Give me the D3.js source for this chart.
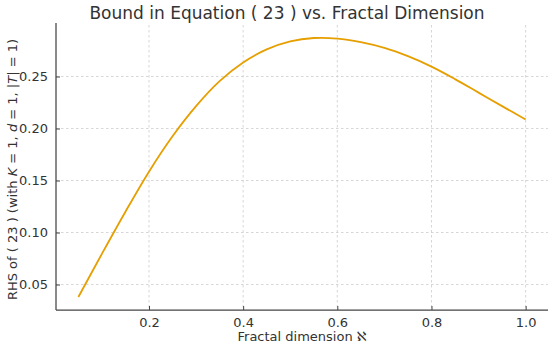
<!DOCTYPE html>
<html>
<head>
<meta charset="utf-8">
<script src="https://cdn.jsdelivr.net/npm/d3@7"></script>
<style>
  body { margin: 0; background: #fff; }
  svg { font-family: "DejaVu Sans", sans-serif; }
</style>
</head>
<body>
<svg id="chart" width="550" height="345"></svg>
<script>
(function() {
    const width = 550;
    const height = 345;

    // values
    const dims = [0.05, 0.10, 0.15, 0.20, 0.25, 0.30, 0.35, 0.40, 0.45, 0.50,
                  0.55, 0.60, 0.65, 0.70, 0.75, 0.80, 0.85, 0.90, 0.95, 1.00];
    const rhs = [0.038, 0.0795, 0.120, 0.1585, 0.1925, 0.2215, 0.2455, 0.2635, 0.2760, 0.2837,
                 0.2870, 0.2865, 0.2830, 0.2775, 0.2695, 0.2595, 0.2475, 0.2345, 0.2215, 0.2087];
    const xTicks = [0.2, 0.4, 0.6, 0.8, 1.0];
    const yTicks = [0.05, 0.10, 0.15, 0.20, 0.25];

    const margin = {top: 25, right: 2, bottom: 35, left: 56};

    const svg = d3.select("#chart");

    const x = d3.scaleLinear()
        .domain([0.0025, 1.0475])
        .range([margin.left, width - margin.right]);

    const y = d3.scaleLinear()
        .domain([0.0255, 0.2995])
        .range([height - margin.bottom, margin.top]);

    // grid
    const grid = svg.append("g");
    grid.selectAll("line.gx")
        .data(xTicks)
        .enter().append("line")
        .attr("x1", d => x(d)).attr("x2", d => x(d))
        .attr("y1", margin.top).attr("y2", height - margin.bottom)
        .attr("stroke", "#cccccc")
        .attr("stroke-width", 0.8)
        .attr("stroke-dasharray", "2.5,2.5");
    grid.selectAll("line.gy")
        .data(yTicks)
        .enter().append("line")
        .attr("x1", margin.left).attr("x2", width - margin.right)
        .attr("y1", d => y(d)).attr("y2", d => y(d))
        .attr("stroke", "#cccccc")
        .attr("stroke-width", 0.8)
        .attr("stroke-dasharray", "2.5,2.5");

    // curve
    const line = d3.line()
        .x((d, i) => x(dims[i]))
        .y(d => y(d))
        .curve(d3.curveCatmullRom.alpha(0.5));

    svg.append("path")
        .datum(rhs)
        .attr("d", line)
        .attr("fill", "none")
        .attr("stroke", "#E69F00")
        .attr("stroke-width", 1.8);

    // axes
    const xAxis = svg.append("g")
        .attr("transform", `translate(0,${height - margin.bottom})`)
        .call(d3.axisBottom(x).tickValues(xTicks).tickFormat(d3.format(".1f"))
            .tickSizeInner(-4).tickSizeOuter(0).tickPadding(8));

    const yAxis = svg.append("g")
        .attr("transform", `translate(${margin.left},0)`)
        .call(d3.axisLeft(y).tickValues(yTicks).tickFormat(d3.format(".2f"))
            .tickSizeInner(-4).tickSizeOuter(0).tickPadding(8));

    [xAxis, yAxis].forEach(ax => {
        ax.select(".domain").attr("stroke", "#444").attr("stroke-width", 1.25);
        ax.selectAll(".tick line").attr("stroke", "#444");
        ax.selectAll(".tick text")
            .attr("fill", "#333")
            .style("font-size", "13px")
            .style("font-family", "DejaVu Sans");
    });
    xAxis.select(".domain").attr("d", `M${margin.left},0H${width - margin.right}`);
    yAxis.select(".domain").attr("d", `M0,${height - margin.bottom}V${margin.top - 2}`);

    // title
    svg.append("text")
        .attr("x", 287)
        .attr("y", 19)
        .attr("text-anchor", "middle")
        .attr("fill", "#333")
        .style("font-size", "17px")
        .text("Bound in Equation ( 23 ) vs. Fractal Dimension");

    // x label
    svg.append("text")
        .attr("x", (margin.left + width - margin.right) / 2)
        .attr("y", 341)
        .attr("text-anchor", "middle")
        .attr("fill", "#333")
        .style("font-size", "13px")
        .text("Fractal dimension ℵ");

    // y label
    const yl = svg.append("text")
        .attr("transform", `translate(17,${(margin.top + height - margin.bottom) / 2 + 2}) rotate(-90)`)
        .attr("text-anchor", "middle")
        .attr("fill", "#333")
        .style("font-size", "13px");
    yl.append("tspan").text("RHS of ( 23 ) (with ");
    yl.append("tspan").style("font-style", "italic").text("K");
    yl.append("tspan").text(" = 1,  ");
    yl.append("tspan").style("font-style", "italic").text("d");
    yl.append("tspan").text(" = 1,  |");
    yl.append("tspan").style("font-style", "italic").text("T");
    yl.append("tspan").text("| = 1)");
})();
</script>
</body>
</html>
